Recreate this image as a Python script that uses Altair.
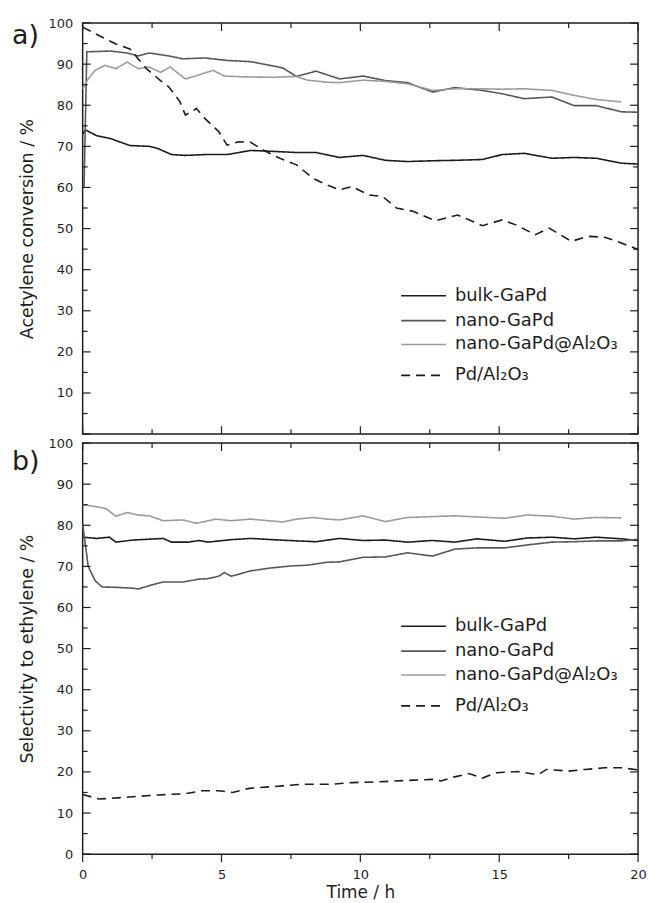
import altair as alt
import pandas as pd

FONT = "DejaVu Sans"
INK = "#1e1e1e"
W, H = 558, 413

SERIES = ["bulk-GaPd", "nano-GaPd", "nano-GaPd@Al₂O₃", "Pd/Al₂O₃"]
COLORS = ["#1c1c1c", "#575757", "#9b9b9b", "#1c1c1c"]
DASHES = [[1, 0], [1, 0], [1, 0], [9, 6]]

X_MAJOR = [0, 5, 10, 15, 20]
X_MINOR = [2.5, 7.5, 12.5, 17.5]
Y_MAJOR = [0, 10, 20, 30, 40, 50, 60, 70, 80, 90, 100]
Y_MINOR = [5, 15, 25, 35, 45, 55, 65, 75, 85, 95]
Y_LABELS_A = [10, 20, 30, 40, 50, 60, 70, 80, 90, 100]
Y_LABELS_B = [0, 10, 20, 30, 40, 50, 60, 70, 80, 90, 100]

# ---- panel a: acetylene conversion ----
a_bulk_t = [0, 0.1, 0.5, 1.0, 1.7, 2.4, 2.7, 3.2, 3.7, 4.4, 5.2, 6.05, 6.8, 7.7, 8.4, 9.25,
            10.1, 10.9, 11.7, 12.6, 13.4, 14.4, 15.1, 15.9, 16.9, 17.7, 18.5, 19.4, 20]
a_bulk_v = [73.0, 74.0, 72.6, 71.9, 70.2, 70.0, 69.5, 68.0, 67.8, 68.0, 68.0, 69.0, 68.8, 68.5,
            68.5, 67.3, 67.8, 66.6, 66.3, 66.5, 66.6, 66.8, 68.0, 68.3, 67.1, 67.3, 67.1, 65.9, 65.7]

a_nano_t = [0.05, 0.15, 0.2, 1.0, 1.6, 2.0, 2.4, 3.1, 3.6, 4.4, 5.2, 6.05, 6.75, 7.2, 7.7, 8.4,
            9.25, 10.1, 10.9, 11.7, 12.6, 13.4, 14.4, 15.1, 15.9, 16.9, 17.7, 18.5, 19.4, 20]
a_nano_v = [60.0, 93.0, 93.0, 93.2, 92.7, 92.0, 92.7, 92.0, 91.3, 91.5, 90.9, 90.6, 89.7, 89.1,
            87.0, 88.3, 86.4, 87.1, 86.0, 85.5, 83.2, 84.3, 83.6, 82.8, 81.6, 82.0, 79.9, 79.9,
            78.4, 78.3]

a_al_t = [0, 0.2, 0.45, 0.8, 1.2, 1.6, 2.0, 2.4, 2.8, 3.15, 3.7, 4.1, 4.7, 5.1, 5.85, 6.8, 7.7,
          8.1, 8.8, 9.25, 10.1, 10.9, 11.7, 12.6, 13.4, 14.4, 15.1, 15.9, 16.9, 17.7, 18.5, 19.4]
a_al_v = [84.0, 86.4, 88.5, 89.7, 88.9, 90.5, 88.9, 89.3, 88.0, 89.3, 86.4, 87.2, 88.5, 87.1,
          86.9, 86.8, 87.0, 86.1, 85.6, 85.5, 86.1, 85.8, 85.2, 83.6, 84.0, 84.0, 83.9, 84.0,
          83.6, 82.4, 81.4, 80.8]

a_pd_t = [0, 0.6, 1.2, 1.7, 2.05, 2.3, 2.8, 3.1, 3.5, 3.7, 4.1, 4.4, 4.9, 5.2, 5.6, 6.05, 6.5,
          7.1, 7.7, 8.3, 8.8, 9.25, 9.7, 10.3, 10.8, 11.3, 11.9, 12.7, 13.5, 14.4, 15.1, 15.6,
          16.3, 16.8, 17.6, 18.2, 18.8, 19.4, 20]
a_pd_v = [99.0, 96.9, 94.9, 93.7, 90.9, 88.9, 86.0, 84.5, 80.9, 77.6, 79.2, 76.8, 73.6, 70.3,
          71.1, 71.0, 69.1, 67.1, 65.5, 62.2, 60.6, 59.4, 60.2, 58.2, 57.8, 55.0, 54.2, 51.9,
          53.3, 50.7, 52.1, 50.9, 48.5, 50.1, 46.9, 48.1, 47.9, 46.5, 44.9]

# ---- panel b: selectivity to ethylene ----
b_bulk_t = [0, 0.5, 0.96, 1.2, 1.8, 2.9, 3.2, 3.8, 4.2, 4.5, 5.35, 6.05, 7.1, 8.4, 9.25, 10.1,
            10.9, 11.7, 12.6, 13.4, 14.2, 15.2, 16.0, 16.9, 17.7, 18.5, 19.4, 20]
b_bulk_v = [77.1, 76.8, 77.1, 75.9, 76.4, 76.8, 75.9, 75.9, 76.3, 75.9, 76.5, 76.8, 76.4, 76.0,
            76.8, 76.3, 76.4, 75.9, 76.3, 75.9, 76.7, 76.1, 76.9, 77.1, 76.7, 77.1, 76.7, 76.3]

b_nano_t = [0, 0.2, 0.45, 0.7, 1.2, 1.8, 2.0, 2.5, 2.9, 3.6, 4.2, 4.5, 4.9, 5.1, 5.35, 6.05, 6.75,
            7.5, 8.1, 8.8, 9.25, 10.1, 10.9, 11.7, 12.6, 13.4, 14.2, 15.2, 16.0, 16.9, 17.7,
            18.5, 19.4, 20]
b_nano_v = [80.4, 70.0, 66.5, 65.0, 64.9, 64.7, 64.5, 65.5, 66.2, 66.2, 66.9, 67.0, 67.6, 68.5,
            67.6, 68.9, 69.6, 70.1, 70.3, 71.0, 71.1, 72.2, 72.3, 73.3, 72.5, 74.2, 74.5, 74.5,
            75.2, 75.9, 76.0, 76.2, 76.2, 76.6]

b_al_t = [0, 0.6, 0.85, 1.2, 1.6, 2.0, 2.4, 2.9, 3.6, 4.1, 4.8, 5.35, 6.05, 7.2, 7.7, 8.3, 8.8,
          9.25, 10.1, 10.9, 11.7, 13.4, 15.2, 16.0, 16.9, 17.7, 18.5, 19.4]
b_al_v = [85.0, 84.4, 84.0, 82.2, 83.1, 82.5, 82.3, 81.1, 81.3, 80.5, 81.5, 81.1, 81.5, 80.8,
          81.5, 81.9, 81.5, 81.3, 82.3, 80.9, 81.9, 82.3, 81.7, 82.5, 82.2, 81.5, 81.9, 81.8]

b_pd_t = [0, 0.6, 1.5, 2.7, 3.7, 4.3, 4.9, 5.4, 6.0, 7.2, 7.9, 9.0, 9.7, 10.7, 11.9, 12.7, 12.9,
          13.4, 13.9, 14.4, 14.9, 15.7, 16.4, 16.7, 17.5, 18.1, 18.8, 19.4, 20]
b_pd_v = [14.5, 13.4, 13.8, 14.4, 14.7, 15.4, 15.4, 15.0, 16.0, 16.6, 17.0, 17.0, 17.4, 17.6,
          18.0, 18.2, 17.8, 18.8, 19.6, 18.5, 19.8, 20.1, 19.3, 20.6, 20.2, 20.6, 21.0, 21.0, 20.5]


def build_frame(parts):
    rows = []
    for name, ts, vs in parts:
        for t, v in zip(ts, vs):
            rows.append({"series": name, "t": t, "v": v})
    return pd.DataFrame(rows)


df_a = build_frame([(SERIES[0], a_bulk_t, a_bulk_v), (SERIES[1], a_nano_t, a_nano_v),
                    (SERIES[2], a_al_t, a_al_v), (SERIES[3], a_pd_t, a_pd_v)])
df_b = build_frame([(SERIES[0], b_bulk_t, b_bulk_v), (SERIES[1], b_nano_t, b_nano_v),
                    (SERIES[2], b_al_t, b_al_v), (SERIES[3], b_pd_t, b_pd_v)])


def panel(df, ytitle, ylabels, tag, tag_y, legend_top, bottom):
    xs = alt.Scale(domain=[0, 20], nice=False, zero=False)
    ys = alt.Scale(domain=[0, 100], nice=False, zero=False)
    if bottom:
        xaxis = alt.Axis(values=X_MAJOR, title="Time / h", ticks=False, tickSize=0,
                         domain=False, grid=False, labelFlush=False, labelPadding=14,
                         titlePadding=4, format="d", titleFontSize=17)
    else:
        xaxis = None
    yaxis = alt.Axis(values=ylabels, title=ytitle, ticks=False, tickSize=0, domain=False,
                     grid=False, labelPadding=10, titlePadding=12, labelFlush=False)

    lines = alt.Chart(df).mark_line(strokeWidth=1.6).encode(
        x=alt.X("t:Q", scale=xs, axis=xaxis),
        y=alt.Y("v:Q", scale=ys, axis=yaxis),
        color=alt.Color("series:N", scale=alt.Scale(domain=SERIES, range=COLORS), legend=None),
        strokeDash=alt.StrokeDash("series:N", scale=alt.Scale(domain=SERIES, range=DASHES),
                                  legend=None),
    )

    def xt(vals, y0, y1):
        return alt.Chart(pd.DataFrame({"t": vals})).mark_rule(color=INK, strokeWidth=1.2).encode(
            x=alt.X("t:Q", scale=xs, axis=xaxis), y=alt.value(y0), y2=alt.value(y1))

    def yt(vals, x0, x1):
        return alt.Chart(pd.DataFrame({"v": vals})).mark_rule(color=INK, strokeWidth=1.2).encode(
            y=alt.Y("v:Q", scale=ys, axis=yaxis), x=alt.value(x0), x2=alt.value(x1))

    layers = [lines,
              xt(X_MAJOR, 0, 8), xt(X_MINOR, 0, 5),
              yt(Y_MAJOR, 0, 8), yt(Y_MINOR, 0, 5),
              yt(Y_MAJOR, W - 8, W), yt(Y_MINOR, W - 5, W)]
    if bottom:
        layers += [xt(X_MAJOR, H, H + 8), xt(X_MINOR, H, H + 5)]
    else:
        layers += [xt(X_MAJOR, H - 8, H), xt(X_MINOR, H - 5, H)]

    layers.append(
        alt.Chart(pd.DataFrame({"tag": [tag]})).mark_text(
            font=FONT, fontSize=27, align="left", baseline="middle", color=INK
        ).encode(text="tag:N", x=alt.value(-71), y=alt.value(tag_y))
    )

    offsets = [0, 25, 49, 80]
    for i, name in enumerate(SERIES):
        ry = legend_top + offsets[i]
        d = pd.DataFrame({"series": [name]})
        layers.append(alt.Chart(d).mark_rule(strokeWidth=1.6).encode(
            x=alt.value(320), x2=alt.value(365), y=alt.value(ry),
            color=alt.value(COLORS[i]), strokeDash=alt.value(DASHES[i])))
        layers.append(alt.Chart(d).mark_text(
            font=FONT, fontSize=18, align="left", baseline="middle", color=INK
        ).encode(text="series:N", x=alt.value(374), y=alt.value(ry)))

    return alt.layer(*layers).properties(width=W, height=H)


top = panel(df_a, "Acetylene conversion / %", Y_LABELS_A, "a)", 13, 274, False)
bot = panel(df_b, "Selectivity to ethylene / %", Y_LABELS_B, "b)", 19, 184, True)

chart = alt.vconcat(top, bot, spacing=0).properties(
    padding={"left": 3, "top": 6, "right": 0, "bottom": 0}
).configure_view(
    stroke=INK, strokeWidth=1.5
).configure_axis(
    labelFont=FONT, titleFont=FONT, labelFontSize=13, titleFontSize=17.5,
    labelColor=INK, titleColor=INK, titleFontWeight="normal"
)

chart.save("out.html", embed_options={"renderer": "svg", "actions": False})
